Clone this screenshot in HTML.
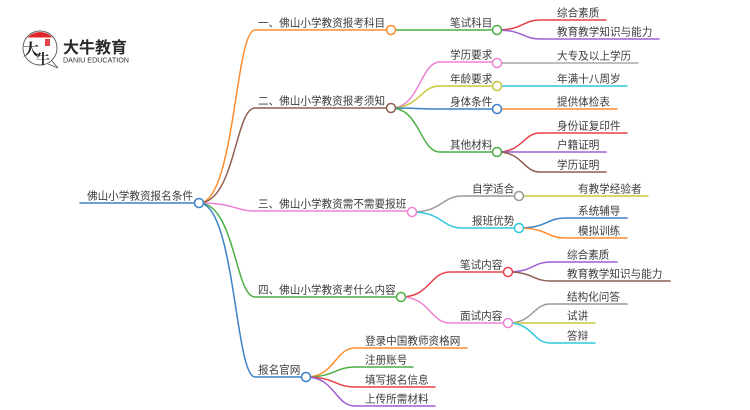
<!DOCTYPE html>
<html>
<head>
<meta charset="utf-8">
<style>
  html, body { margin:0; padding:0; background:#fff; }
  body { width:750px; height:410px; overflow:hidden; }
  svg { display:block; }
  .t { font-family: "Liberation Sans", "Noto Sans CJK SC", sans-serif; font-size:10.6px; fill:#3a3a3a; }
  .e { fill:none; stroke-width:1.5; stroke-linecap:round; }
  .c { fill:#fff; stroke-width:1.5; }
</style>
</head>
<body>
<svg width="750" height="410" viewBox="0 0 750 410" xmlns="http://www.w3.org/2000/svg">
  <!-- Logo -->
  <g>
    <path d="M52,61 L58,68 L48,64" fill="#fff" stroke="#555" stroke-width="0.9"/>
    <circle cx="40" cy="48" r="17" fill="#fff" stroke="#555" stroke-width="0.9"/>
    <path d="M27.5,37.5 A17,17 0 0 1 52.5,37.5 Z" fill="#e0252b"/>
    <text x="23" y="55" style="font-family:'Noto Serif CJK SC',serif;font-size:16px;font-weight:bold;fill:#222">大</text>
    <text x="36" y="64" style="font-family:'Noto Serif CJK SC',serif;font-size:14px;font-weight:bold;fill:#222">牛</text>
    <rect x="45" y="39" width="5" height="7" fill="#e0474c"/>
    <text x="63" y="53" style="font-family:'Liberation Sans','Noto Sans CJK SC',sans-serif;font-size:16px;font-weight:bold;fill:#2a2a2a">大牛教育</text>
    <text x="63" y="62.5" style="font-family:'Liberation Sans',sans-serif;font-size:7.3px;fill:#333" textLength="66" lengthAdjust="spacingAndGlyphs">DANIU EDUCATION</text>
  </g>

  <!-- Root line -->
  <path class="e" stroke="#3a82c6" d="M80,203 H195"/>

  <!-- Level 1 edges -->
  <path class="e" stroke="#ff8c2e" d="M199,203 C235,203 235,30 255,30 H387"/>
  <path class="e" stroke="#8e5e50" d="M199,203 C235,203 235,108 255,108 H387"/>
  <path class="e" stroke="#ee82d2" d="M199,203 C235,203 235,211 255,211 H408"/>
  <path class="e" stroke="#4caf45" d="M199,203 C235,203 235,297 255,297 H397"/>
  <path class="e" stroke="#3a82c6" d="M199,203 C235,203 235,377 255,377 H302"/>

  <!-- Level 2 edges -->
  <path class="e" stroke="#4caf45" d="M391,30 H493"/>
  <path class="e" stroke="#ee82d2" d="M391,108 C420,108 420,62 440,62 H493"/>
  <path class="e" stroke="#c8c83c" d="M391,108 C420,108 420,86 440,86 H493"/>
  <path class="e" stroke="#3a82c6" d="M391,108 C420,108 420,109 440,109 H493"/>
  <path class="e" stroke="#4caf45" d="M391,108 C420,108 420,152 440,152 H493"/>
  <path class="e" stroke="#999999" d="M412,212 C442,212 442,196 462,196 H515"/>
  <path class="e" stroke="#2ec8dc" d="M412,212 C442,212 442,228 462,228 H515"/>
  <path class="e" stroke="#e8404a" d="M401,297 C430,297 430,272 450,272 H504"/>
  <path class="e" stroke="#ee82d2" d="M401,297 C430,297 430,323 450,323 H504"/>
  <path class="e" stroke="#ff8c2e" d="M306,377 C335,377 335,348 355,348 H467"/>
  <path class="e" stroke="#4caf45" d="M306,377 C335,377 335,367 355,367 H413"/>
  <path class="e" stroke="#e8404a" d="M306,377 C335,377 335,387 355,387 H435"/>
  <path class="e" stroke="#9b5fd0" d="M306,377 C335,377 335,406 355,406 H435"/>

  <!-- Level 3 edges -->
  <path class="e" stroke="#e8404a" d="M497,30 C523,30 523,20 540,20 H606"/>
  <path class="e" stroke="#9b5fd0" d="M497,30 C523,30 523,39 540,39 H659"/>
  <path class="e" stroke="#a8a8a8" d="M497,63 H638"/>
  <path class="e" stroke="#2ec8dc" d="M497,86 H627"/>
  <path class="e" stroke="#ff8c2e" d="M497,109 H617"/>
  <path class="e" stroke="#e8404a" d="M497,152 C523,152 523,133 540,133 H627"/>
  <path class="e" stroke="#9b5fd0" d="M497,152 H606"/>
  <path class="e" stroke="#8e5e50" d="M497,152 C523,152 523,172 540,172 H606"/>
  <path class="e" stroke="#c8c83c" d="M519,196 H648"/>
  <path class="e" stroke="#3a82c6" d="M519,228 C547,228 547,218 565,218 H627"/>
  <path class="e" stroke="#ff8c2e" d="M519,228 C547,228 547,238 565,238 H627"/>
  <path class="e" stroke="#9b5fd0" d="M508,272 C533,272 533,262 550,262 H617"/>
  <path class="e" stroke="#8e5e50" d="M508,272 C533,272 533,281 550,281 H670"/>
  <path class="e" stroke="#999999" d="M508,323 C533,323 533,304 550,304 H627"/>
  <path class="e" stroke="#c8c83c" d="M508,323 H595"/>
  <path class="e" stroke="#2ec8dc" d="M508,323 C533,323 533,343 550,343 H595"/>

  <!-- Circles -->
  <circle class="c" cx="199" cy="203" r="4.5" stroke="#3a82c6"/>
  <circle class="c" cx="391" cy="30" r="4.5" stroke="#ff8c2e"/>
  <circle class="c" cx="391" cy="108" r="4.5" stroke="#8e5e50"/>
  <circle class="c" cx="412" cy="212" r="4.5" stroke="#ee82d2"/>
  <circle class="c" cx="401" cy="297" r="4.5" stroke="#4caf45"/>
  <circle class="c" cx="306" cy="377" r="4.5" stroke="#3a82c6"/>
  <circle class="c" cx="497" cy="30" r="4.5" stroke="#4caf45"/>
  <circle class="c" cx="497" cy="63" r="4.5" stroke="#ee82d2"/>
  <circle class="c" cx="497" cy="86" r="4.5" stroke="#c8c83c"/>
  <circle class="c" cx="497" cy="109" r="4.5" stroke="#3a82c6"/>
  <circle class="c" cx="497" cy="152" r="4.5" stroke="#4caf45"/>
  <circle class="c" cx="519" cy="196" r="4.5" stroke="#999999"/>
  <circle class="c" cx="519" cy="228" r="4.5" stroke="#2ec8dc"/>
  <circle class="c" cx="508" cy="272" r="4.5" stroke="#e8404a"/>
  <circle class="c" cx="508" cy="323" r="4.5" stroke="#ee82d2"/>

  <!-- Labels -->
  <text class="t" x="87" y="199.5">佛山小学教资报名条件</text>
  <text class="t" x="258" y="26.5">一、佛山小学教资报考科目</text>
  <text class="t" x="258" y="104.5">二、佛山小学教资报考须知</text>
  <text class="t" x="258" y="207.5">三、佛山小学教资需不需要报班</text>
  <text class="t" x="258" y="293.5">四、佛山小学教资考什么内容</text>
  <text class="t" x="258" y="373.5">报名官网</text>

  <text class="t" x="450" y="26.5">笔试科目</text>
  <text class="t" x="450" y="58.5">学历要求</text>
  <text class="t" x="450" y="82.5">年龄要求</text>
  <text class="t" x="450" y="105.5">身体条件</text>
  <text class="t" x="450" y="148.5">其他材料</text>
  <text class="t" x="472" y="192.5">自学适合</text>
  <text class="t" x="472" y="224.5">报班优势</text>
  <text class="t" x="460" y="268.5">笔试内容</text>
  <text class="t" x="460" y="319.5">面试内容</text>

  <text class="t" x="557" y="16.5">综合素质</text>
  <text class="t" x="557" y="35.5">教育教学知识与能力</text>
  <text class="t" x="557" y="59.5">大专及以上学历</text>
  <text class="t" x="557" y="82.5">年满十八周岁</text>
  <text class="t" x="557" y="105.5">提供体检表</text>
  <text class="t" x="557" y="129.5">身份证复印件</text>
  <text class="t" x="557" y="148.5">户籍证明</text>
  <text class="t" x="557" y="168.5">学历证明</text>
  <text class="t" x="578" y="192.5">有教学经验者</text>
  <text class="t" x="578" y="214.5">系统辅导</text>
  <text class="t" x="578" y="234.5">模拟训练</text>
  <text class="t" x="567" y="258.5">综合素质</text>
  <text class="t" x="567" y="277.5">教育教学知识与能力</text>
  <text class="t" x="567" y="300.5">结构化问答</text>
  <text class="t" x="567" y="319.5">试讲</text>
  <text class="t" x="567" y="339.5">答辩</text>
  <text class="t" x="365" y="344.5">登录中国教师资格网</text>
  <text class="t" x="365" y="363.5">注册账号</text>
  <text class="t" x="365" y="383.5">填写报名信息</text>
  <text class="t" x="365" y="402.5">上传所需材料</text>
</svg>
</body>
</html>
